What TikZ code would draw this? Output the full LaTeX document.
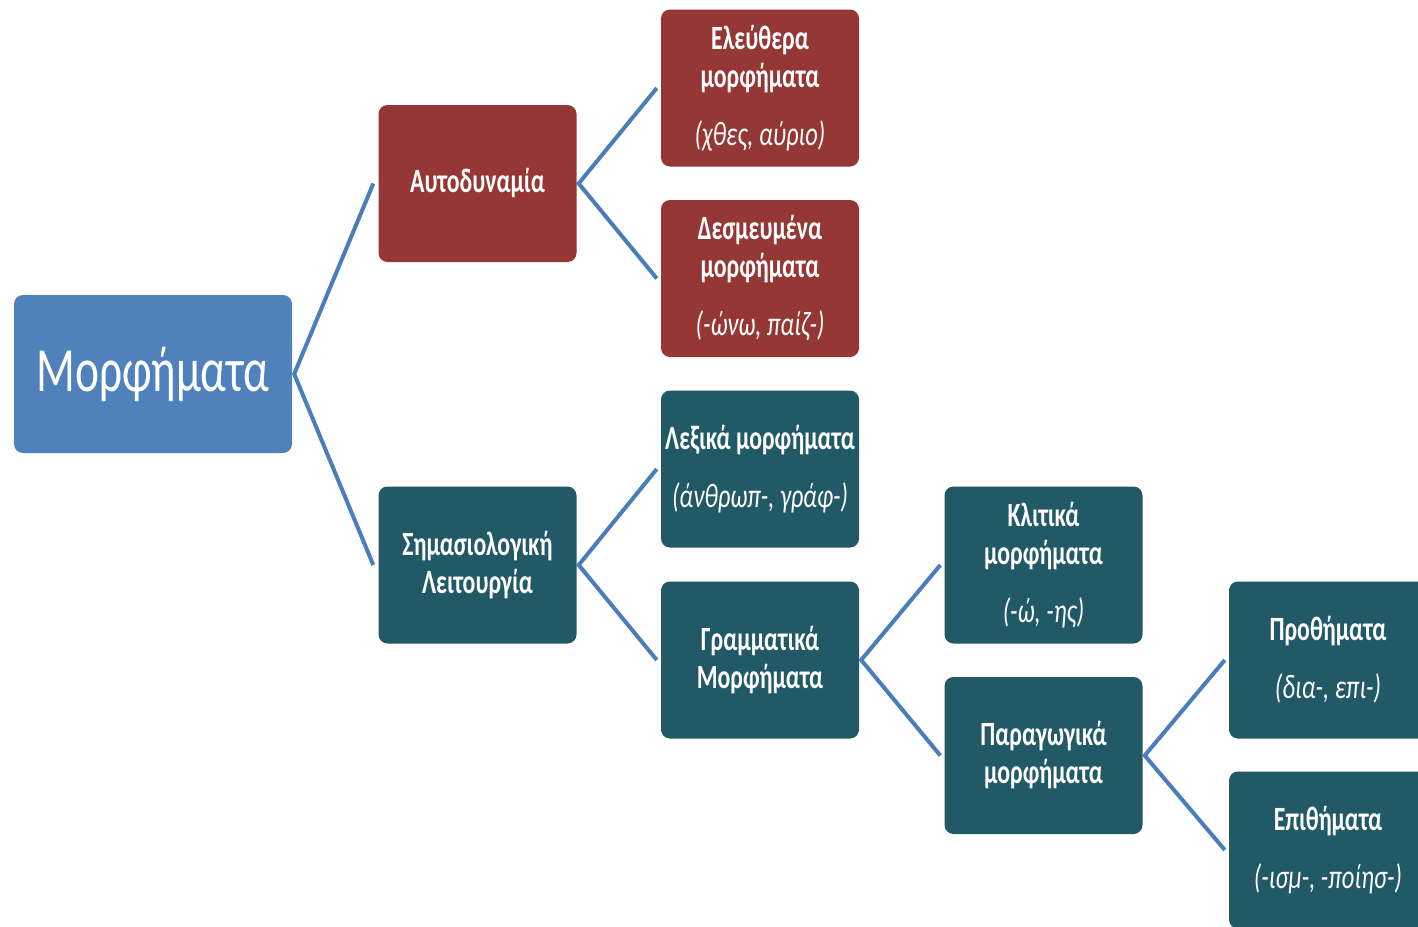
\documentclass[tikz,border=0pt]{standalone}
\usepackage{fontspec}
\setmainfont[FakeStretch=0.72, BoldFeatures={FakeStretch=0.70}]{Carlito}
\definecolor{mblue}{HTML}{4F81BD}
\definecolor{mred}{HTML}{953735}
\definecolor{mteal}{HTML}{215967}
\definecolor{lblue}{HTML}{4A7EBB}
\newcommand{\ex}[1]{\textit{\mdseries #1}}
\begin{document}
\begin{tikzpicture}[x=1pt,y=-1pt,
  box/.style={rounded corners=9pt, minimum width=198pt, minimum height=157pt,
    text=white, align=center, inner sep=0pt,
    font=\fontsize{34}{38}\selectfont\bfseries},
  redbox/.style={box, fill=mred},
  tealbox/.style={box, fill=mteal},
  conn/.style={draw=lblue, line width=4pt}]
\useasboundingbox (0,0) rectangle (1418,926);
\clip (0,0) rectangle (1418,926);
\node[box, fill=mblue, minimum width=278pt, minimum height=158pt,
  font=\fontsize{63}{70}\selectfont] (M) at (153,374) {Μορφήματα};
\node[redbox] (A) at (477.5,183.5) {Αυτοδυναμία};
\node[redbox] (E) at (760,88) {Ελεύθερα\\μορφήματα\\[20pt]\ex{(χθες, αύριο)}};
\node[redbox] (D) at (760,278.5) {Δεσμευμένα\\μορφήματα\\[20pt]\ex{(-ώνω, παίζ-)}};
\node[tealbox] (S) at (477.5,565) {Σημασιολογική\\Λειτουργία};
\node[tealbox] (L) at (760,469) {Λεξικά μορφήματα\\[20pt]\ex{(άνθρωπ-, γράφ-)}};
\node[tealbox] (G) at (760,660) {Γραμματικά\\Μορφήματα};
\node[tealbox] (K) at (1043.5,565) {Κλιτικά\\μορφήματα\\[20pt]\ex{(-ώ, -ης)}};
\node[tealbox] (P) at (1043.5,755.5) {Παραγωγικά\\μορφήματα};
\node[tealbox] (Pr) at (1328,660) {Προθήματα\\[20pt]\ex{(δια-, επι-)}};
\node[tealbox] (Ep) at (1328,850) {Επιθήματα\\[20pt]\ex{(-ισμ-, -ποίησ-)}};
\draw[conn] ([xshift=-5pt]A.west) -- ([xshift=2pt]M.east) -- ([xshift=-5pt]S.west);
\draw[conn] ([xshift=-4pt]E.west) -- ([xshift=2pt]A.east) -- ([xshift=-4pt]D.west);
\draw[conn] ([xshift=-4pt]L.west) -- ([xshift=2pt]S.east) -- ([xshift=-4pt]G.west);
\draw[conn] ([xshift=-4pt]K.west) -- ([xshift=2pt]G.east) -- ([xshift=-4pt]P.west);
\draw[conn] ([xshift=-4pt]Pr.west) -- ([xshift=2pt]P.east) -- ([xshift=-4pt]Ep.west);
\end{tikzpicture}
\end{document}
